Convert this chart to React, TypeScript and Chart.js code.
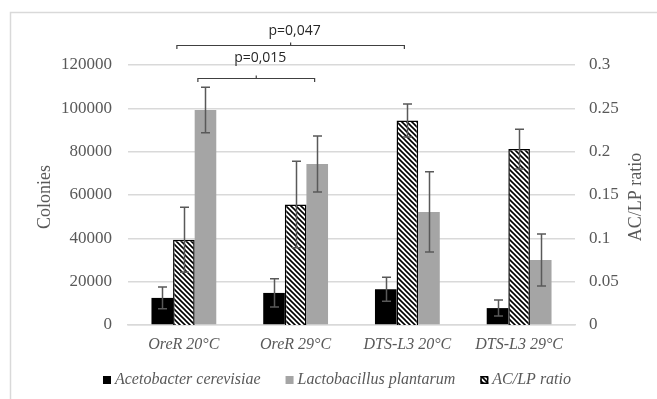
import React, { useEffect, useRef } from "react";
import { Chart, registerables } from "chart.js";

Chart.register(...registerables);

const categories = ["OreR 20°C", "OreR 29°C", "DTS-L3 20°C", "DTS-L3 29°C"];
const acetobacter = [12500, 14800, 16500, 7800];
const acetobacterErr = [5000, 6500, 5500, 3700];
const lactobacillus = [99200, 74300, 52200, 30000];
const lactobacillusErr = [10500, 12900, 18500, 12000];
const ratio = [0.0985, 0.139, 0.236, 0.203];
const ratioErr = [0.0375, 0.05, 0.019, 0.023];
const leftTicks = [0, 20000, 40000, 60000, 80000, 100000, 120000];
const rightTicks = ["0", "0.05", "0.1", "0.15", "0.2", "0.25", "0.3"];
const seriesNames = ["Acetobacter cerevisiae", "Lactobacillus plantarum", "AC/LP ratio"];
const significance = [
  { a: 0, b: 2, label: "p=0,047" },
  { a: 0, b: 1, label: "p=0,015" },
];

const SERIF = "'Liberation Serif', 'Times New Roman', serif";
const SANS = "'Open Sans', 'Noto Sans', sans-serif";
const TXT = "#595959";
const GRID = "#d9d9d9";
const GRAY = "#a5a5a5";

export default function App() {
  const ref = useRef<HTMLCanvasElement>(null);

  useEffect(() => {
    const canvas = ref.current!;
    const s = 5;
    const pc = document.createElement("canvas");
    pc.width = s;
    pc.height = s;
    const g = pc.getContext("2d")!;
    g.fillStyle = "#ffffff";
    g.fillRect(0, 0, s, s);
    g.strokeStyle = "#000000";
    g.lineWidth = 1.6;
    g.beginPath();
    g.moveTo(-1, -1);
    g.lineTo(s + 1, s + 1);
    g.moveTo(-1, s - 1);
    g.lineTo(1, s + 1);
    g.moveTo(s - 1, -1);
    g.lineTo(s + 1, 1);
    g.stroke();
    const pattern = canvas.getContext("2d")!.createPattern(pc, "repeat")!;

    const errors: Record<number, number[]> = { 0: acetobacterErr, 1: ratioErr, 2: lactobacillusErr };

    const decor = {
      id: "decor",
      beforeDraw(chart: any) {
        const ctx = chart.ctx;
        ctx.save();
        ctx.fillStyle = "#ffffff";
        ctx.fillRect(0, 0, chart.width, chart.height);
        ctx.strokeStyle = GRID;
        ctx.lineWidth = 1.5;
        ctx.beginPath();
        ctx.moveTo(10.5, chart.height + 2);
        ctx.lineTo(10.5, 12.5);
        ctx.lineTo(chart.width + 2, 12.5);
        ctx.stroke();
        ctx.restore();
      },
      afterDatasetsDraw(chart: any) {
        const ctx = chart.ctx;
        ctx.save();
        ctx.strokeStyle = "#595959";
        ctx.lineWidth = 1.5;
        chart.data.datasets.forEach((ds: any, di: number) => {
          const meta = chart.getDatasetMeta(di);
          const sc = chart.scales[meta.yAxisID];
          const err = errors[di];
          meta.data.forEach((el: any, i: number) => {
            const v = ds.data[i];
            const yt = sc.getPixelForValue(v + err[i]);
            const yb = sc.getPixelForValue(v - err[i]);
            const x = Math.round(el.x) + 0.5;
            ctx.beginPath();
            ctx.moveTo(x, yt);
            ctx.lineTo(x, yb);
            ctx.moveTo(x - 4.5, yt);
            ctx.lineTo(x + 4.5, yt);
            ctx.moveTo(x - 4.5, yb);
            ctx.lineTo(x + 4.5, yb);
            ctx.stroke();
          });
        });
        ctx.restore();
      },
      afterDraw(chart: any) {
        const ctx = chart.ctx;
        const ca = chart.chartArea;
        const xs = chart.scales.x;
        ctx.save();
        // axis titles
        ctx.fillStyle = TXT;
        ctx.font = `18px ${SERIF}`;
        ctx.textAlign = "center";
        ctx.textBaseline = "middle";
        const midY = (ca.top + ca.bottom) / 2 + 2;
        ctx.save();
        ctx.translate(45, midY);
        ctx.rotate(-Math.PI / 2);
        ctx.fillText("Colonies", 0, 0);
        ctx.restore();
        ctx.save();
        ctx.translate(636, midY);
        ctx.rotate(-Math.PI / 2);
        ctx.fillText("AC/LP ratio", 0, 0);
        ctx.restore();

        // significance brackets
        const specs = [
          { l: -7, r: -3, y: ca.top - 20, ty: ca.top - 34 },
          { l: 14, r: 19, y: ca.top + 13, ty: ca.top - 7 },
        ];
        significance.forEach((sg, k) => {
          const sp = specs[k];
          const x1 = xs.getPixelForValue(sg.a) + sp.l;
          const x2 = xs.getPixelForValue(sg.b) + sp.r;
          const y = Math.round(sp.y) + 0.5;
          const xm = (x1 + x2) / 2;
          ctx.strokeStyle = "#404040";
          ctx.lineWidth = 1.2;
          ctx.beginPath();
          ctx.moveTo(x1, y + 3.5);
          ctx.lineTo(x1, y);
          ctx.lineTo(x2, y);
          ctx.lineTo(x2, y + 3.5);
          ctx.moveTo(xm, y);
          ctx.lineTo(xm, y - 3);
          ctx.stroke();
          ctx.fillStyle = "#262626";
          ctx.font = `14px ${SANS}`;
          ctx.textAlign = "center";
          ctx.textBaseline = "middle";
          ctx.fillText(sg.label, xm + 4, sp.ty);
        });

        // legend
        const fills = ["#000000", GRAY, pattern];
        ctx.font = `italic 16px ${SERIF}`;
        const box = 8, gapIn = 4, gapOut = 25;
        const widths = seriesNames.map((n) => ctx.measureText(n).width);
        const total = widths.reduce((a, b) => a + b, 0) + seriesNames.length * (box + gapIn) + gapOut * (seriesNames.length - 1);
        let x = 337 - total / 2;
        const ly = 380;
        seriesNames.forEach((n, i) => {
          ctx.fillStyle = fills[i] as any;
          ctx.fillRect(x, ly - box / 2, box, box);
          if (i === 2) {
            ctx.strokeStyle = "#000";
            ctx.lineWidth = 1.5;
            ctx.strokeRect(x + 0.75, ly - box / 2 + 0.75, box - 1.5, box - 1.5);
          }
          ctx.fillStyle = TXT;
          ctx.textAlign = "left";
          ctx.textBaseline = "middle";
          ctx.fillText(n, x + box + gapIn, ly);
          x += box + gapIn + widths[i] + gapOut;
        });
        ctx.restore();
      },
    };

    const chart = new Chart(canvas, {
      type: "bar",
      data: {
        labels: categories,
        datasets: [
          {
            label: seriesNames[0],
            data: acetobacter,
            backgroundColor: "#000000",
            yAxisID: "y",
            borderWidth: 0,
          },
          {
            label: seriesNames[2],
            data: ratio,
            backgroundColor: pattern as any,
            borderColor: "#000000",
            borderWidth: 1.5,
            yAxisID: "y1",
          },
          {
            label: seriesNames[1],
            data: lactobacillus,
            backgroundColor: GRAY,
            yAxisID: "y",
            borderWidth: 0,
          },
        ],
      },
      options: {
        responsive: false,
        animation: false,
        layout: { padding: { top: 65, left: 0, right: 0, bottom: 0 } },
        datasets: { bar: { categoryPercentage: 0.58, barPercentage: 1 } },
        plugins: { legend: { display: false }, tooltip: { enabled: false } },
        scales: {
          x: {
            grid: { display: false, drawTicks: false },
            border: { display: true, color: GRID, width: 1.5 },
            ticks: {
              color: TXT,
              padding: 10,
              font: { family: SERIF, size: 16, style: "italic" },
            },
            afterFit: (sc: any) => {
              sc.height = 74;
            },
          },
          y: {
            position: "left",
            min: 0,
            max: 120000,
            afterBuildTicks: (sc: any) => {
              sc.ticks = leftTicks.map((v) => ({ value: v }));
            },
            grid: { color: GRID, lineWidth: 1.5, drawTicks: false },
            border: { display: false },
            ticks: {
              color: TXT,
              padding: 16,
              font: { family: SERIF, size: 17 },
              callback: (v: any) => String(v),
            },
            afterFit: (sc: any) => {
              sc.width = 128;
            },
          },
          y1: {
            position: "right",
            min: 0,
            max: 0.3,
            afterBuildTicks: (sc: any) => {
              sc.ticks = rightTicks.map((t) => ({ value: Number(t) }));
            },
            grid: { display: false, drawTicks: false },
            border: { display: false },
            ticks: {
              color: TXT,
              padding: 14,
              font: { family: SERIF, size: 17 },
              callback: (_v: any, i: number) => rightTicks[i],
            },
            afterFit: (sc: any) => {
              sc.width = 82;
            },
          },
        },
      },
      plugins: [decor],
    });

    return () => chart.destroy();
  }, []);

  return (
    <canvas
      ref={ref}
      width={657}
      height={399}
      style={{ position: "fixed", left: 0, top: 0, width: 657, height: 399, display: "block" }}
    />
  );
}
